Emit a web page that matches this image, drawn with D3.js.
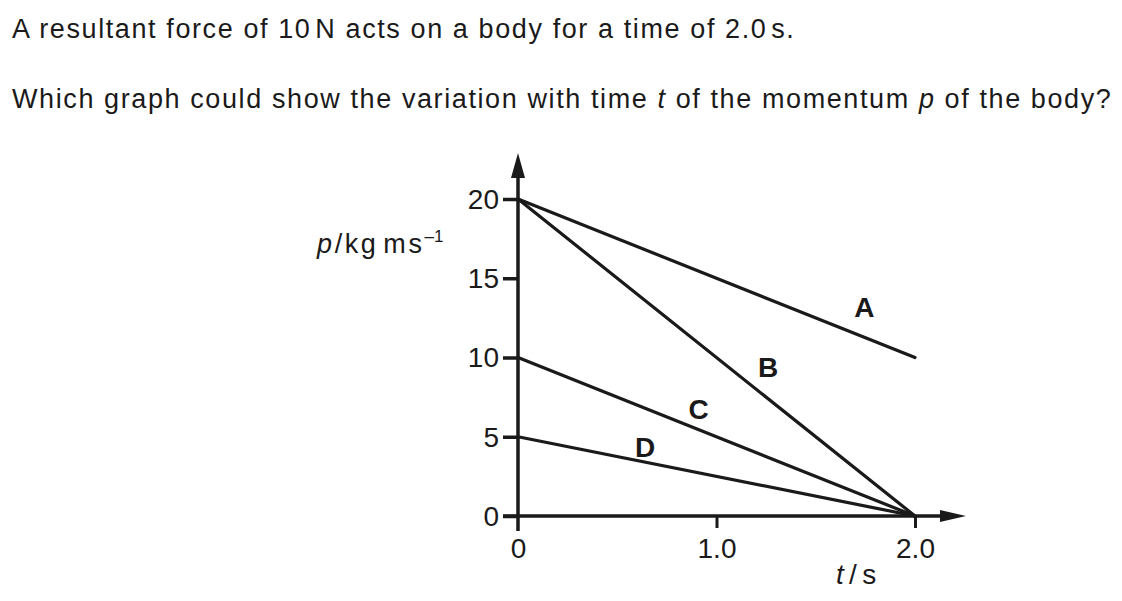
<!DOCTYPE html>
<html><head><meta charset="utf-8">
<script src="https://cdn.jsdelivr.net/npm/d3@7"></script>
<style>body{margin:0;background:#fff}svg{display:block}</style>
</head><body>
<script>
const yTicks = [0, 5, 10, 15, 20];
const xTicks = [0, 1.0, 2.0];
const xTickLabels = ["0", "1.0", "2.0"];
const lineNames = ["A", "B", "C", "D"];
const startP = [20, 20, 10, 5];
const endP = [10, 0, 0, 0];
const tStart = 0, tEnd = 2.0;

const W = 1122, H = 601, ink = "#1a1a1a";
const svg = d3.select("body").append("svg").attr("width", W).attr("height", H);
const font = "'Liberation Sans', Arial, sans-serif";

const x = d3.scaleLinear().domain([0, 2]).range([518, 915]);
const y = d3.scaleLinear().domain([0, 20]).range([516, 199]);

// question text
const q = svg.append("g").attr("font-family", font).attr("font-size", 27).attr("fill", ink)
  .attr("letter-spacing", 1.6);
const t1 = q.append("text").attr("x", 12).attr("y", 38);
t1.text("A resultant force of 10\u200aN acts on a body for a time of 2.0\u200as.");
const t2 = q.append("text").attr("x", 12).attr("y", 108);
t2.append("tspan").text("Which graph could show the variation with time ");
t2.append("tspan").attr("font-style", "italic").text("t");
t2.append("tspan").text(" of the momentum ");
t2.append("tspan").attr("font-style", "italic").text("p");
t2.append("tspan").text(" of the body?");

// axes
const ax = svg.append("g").attr("stroke", ink).attr("stroke-width", 3.5);
ax.append("line").attr("x1", x(0)).attr("x2", x(0)).attr("y1", 176).attr("y2", 531);
ax.append("line").attr("x1", 503).attr("x2", 942).attr("y1", y(0)).attr("y2", y(0));
svg.append("path").attr("fill", ink)
  .attr("d", `M${x(0)},153 L${x(0)-7},178 L${x(0)+7},178 Z`);
svg.append("path").attr("fill", ink)
  .attr("d", `M966,${y(0)} L940,${y(0)-6} L940,${y(0)+6} Z`);

// y ticks
const yAxis = d3.axisLeft(y).tickValues(yTicks).tickSize(15).tickPadding(4).tickFormat(d3.format("d"));
const gy = svg.append("g").attr("transform", `translate(${x(0)},0)`).call(yAxis);
gy.select(".domain").remove();
gy.selectAll(".tick line").attr("stroke", ink).attr("stroke-width", 3.5);
gy.selectAll(".tick text").attr("fill", ink).attr("font-family", font).attr("font-size", 28).attr("dy", "0.33em");

// x ticks
const xAxis = d3.axisBottom(x).tickValues(xTicks).tickSize(12).tickPadding(8)
  .tickFormat((d, i) => xTickLabels[i]);
const gx = svg.append("g").attr("transform", `translate(0,${y(0)})`).call(xAxis);
gx.select(".domain").remove();
gx.selectAll(".tick line").attr("stroke", ink).attr("stroke-width", 3)
  .attr("display", d => d === 0 ? "none" : null);
gx.selectAll(".tick text").attr("fill", ink).attr("font-family", font).attr("font-size", 28)
  .attr("dy", null).attr("y", 42);

// axis titles
const yl = svg.append("text").attr("x", 317).attr("y", 253).attr("font-family", font).attr("font-size", 27)
  .attr("fill", ink).attr("letter-spacing", 2.6);
yl.append("tspan").attr("font-style", "italic").text("p");
yl.append("tspan").text("/kg\u200ams");
yl.append("tspan").attr("font-size", 17).attr("dy", -11).attr("letter-spacing", 0).text("\u20131");
const xl = svg.append("text").attr("x", 836).attr("y", 584).attr("font-family", font).attr("font-size", 28)
  .attr("fill", ink).attr("letter-spacing", 1.5);
xl.append("tspan").attr("font-style", "italic").text("t");
xl.append("tspan").text("\u200a/\u200as");

// lines
const data = lineNames.map((n, i) => ({name: n, p0: startP[i], p1: endP[i]}));
svg.append("g").selectAll("line").data(data).join("line")
  .attr("x1", x(tStart)).attr("y1", d => y(d.p0))
  .attr("x2", x(tEnd)).attr("y2", d => y(d.p1))
  .attr("stroke", ink).attr("stroke-width", 3.2).attr("stroke-linecap", "round");

// labels: placed at a time along each line, offset
const labelT = [1.74, 1.25, 0.91, 0.64];
const labelOff = [[1, -20], [2, -20], [0, -11], [0, -5]];
svg.append("g").selectAll("text").data(data).join("text")
  .attr("x", (d, i) => x(labelT[i]) + labelOff[i][0])
  .attr("y", (d, i) => y(d.p0 + (d.p1 - d.p0) * labelT[i] / 2) + labelOff[i][1])
  .attr("text-anchor", "middle")
  .attr("font-family", font).attr("font-weight", "bold").attr("font-size", 28).attr("fill", ink)
  .text(d => d.name);
</script>
</body></html>
